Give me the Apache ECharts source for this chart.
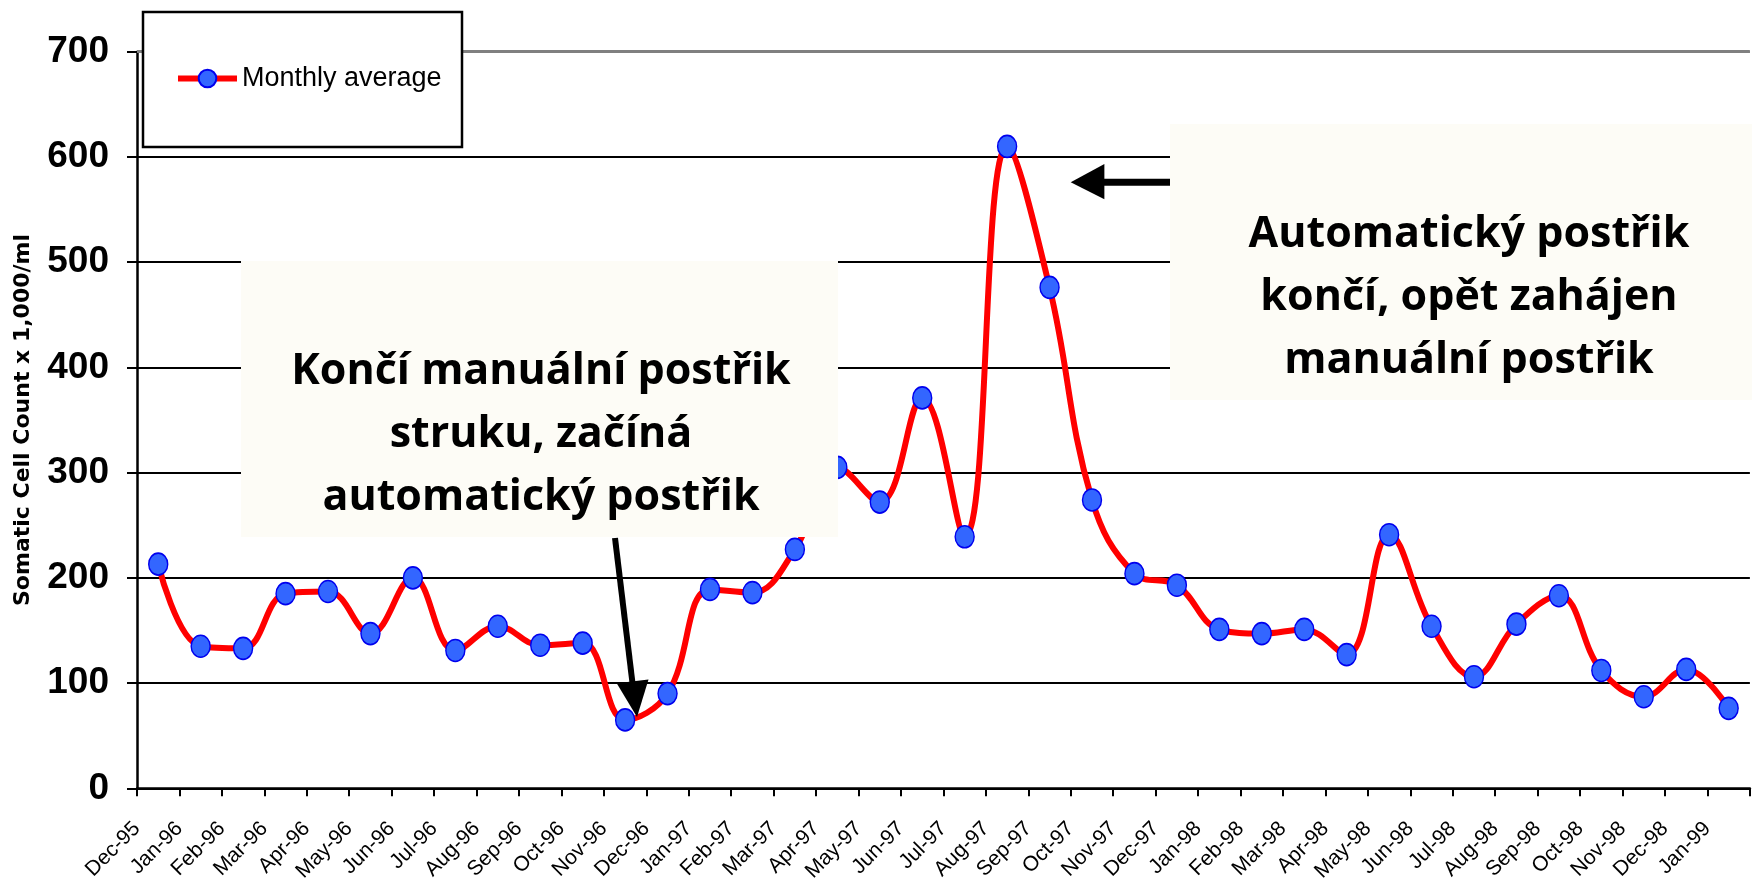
<!DOCTYPE html>
<html>
<head>
<meta charset="utf-8">
<script src="https://cdn.jsdelivr.net/npm/echarts@6/dist/echarts.min.js"></script>
<style>
html,body{margin:0;padding:0;background:#ffffff;}
#chart{width:1752px;height:889px;}
</style>
</head>
<body>
<div id="chart"></div>
<script>
// ---- data ----
const months = ['Dec-95','Jan-96','Feb-96','Mar-96','Apr-96','May-96','Jun-96','Jul-96','Aug-96','Sep-96','Oct-96','Nov-96',
  'Dec-96','Jan-97','Feb-97','Mar-97','Apr-97','May-97','Jun-97','Jul-97','Aug-97','Sep-97','Oct-97','Nov-97',
  'Dec-97','Jan-98','Feb-98','Mar-98','Apr-98','May-98','Jun-98','Jul-98','Aug-98','Sep-98','Oct-98','Nov-98',
  'Dec-98','Jan-99'];
const monthlyAverage = [213,135,133,185,187,147,200,131,154,136,138,65,
  90,189,186,227,305,272,371,239,610,476,274,204,
  193,151,147,151,127,241,154,106,156,183,112,87,
  113,76];
const seriesName = 'Monthly average';
const yAxisTitle = 'Somatic Cell Count x 1,000/ml';
const yMin = 0, yMax = 700, yStep = 100;
const note1 = 'Končí manuální postřik\nstruku, začíná\nautomatický postřik';
const note2 = 'Automatický postřik\nkončí, opět zahájen\nmanuální postřik';

// ---- chart ----
const chart = echarts.init(document.getElementById('chart'), null, {renderer: 'canvas'});
const gridLineColors = [];
for (let v = yMin; v <= yMax; v += yStep) gridLineColors.push(v === yMax ? '#808080' : '#000000');
const noteFont = '"Open Sans", Lato, "Noto Sans", sans-serif';

const option = {
  backgroundColor: '#ffffff',
  animation: false,
  grid: {left: 137, top: 51.7, width: 1619, height: 736.6, containLabel: false},
  xAxis: [
    {
      type: 'category', data: months, boundaryGap: true,
      axisLine: {show: true, lineStyle: {color: '#000', width: 2.5}},
      axisTick: {show: true, interval: 0, length: 8, lineStyle: {color: '#000', width: 2}},
      axisLabel: {show: false},
      splitLine: {show: false}
    },
    {
      type: 'category', data: months.concat(['']), boundaryGap: false, position: 'bottom',
      axisLine: {show: false}, axisTick: {show: false}, splitLine: {show: false},
      axisLabel: {show: true, interval: 0, rotate: 45, margin: 37, color: '#000',
        fontSize: 21, fontFamily: '"Liberation Sans", Arial, sans-serif'}
    }
  ],
  yAxis: {
    type: 'value', min: yMin, max: yMax, interval: yStep,
    name: yAxisTitle, nameLocation: 'middle', nameRotate: 90, nameGap: 103,
    nameTextStyle: {fontSize: 22, fontWeight: 'bold', color: '#000', fontFamily: '"DejaVu Sans", sans-serif'},
    axisLine: {show: true, lineStyle: {color: '#000', width: 2.5}},
    axisTick: {show: true, length: 10, lineStyle: {color: '#000', width: 2}},
    axisLabel: {margin: 28, fontSize: 37, fontWeight: 'bold', color: '#000', fontFamily: '"Liberation Sans", Arial, sans-serif'},
    splitLine: {show: true, lineStyle: {color: gridLineColors, width: 2}}
  },
  legend: {
    show: true, data: [seriesName], left: 175, top: 65, padding: 0, z: 8,
    itemWidth: 59, itemHeight: 22, itemGap: 0,
    lineStyle: {width: 6},
    textStyle: {fontSize: 27, color: '#000', fontFamily: '"Liberation Sans", Arial, sans-serif'}
  },
  series: [{
    name: seriesName, type: 'line', data: monthlyAverage, xAxisIndex: 0,
    smooth: 0.4, symbol: 'circle', symbolSize: [19, 22],
    lineStyle: {color: '#ff0000', width: 6},
    itemStyle: {color: '#3366ff', borderColor: '#0000ee', borderWidth: 1.5},
    markLine: {
      z: 1, silent: true, symbol: 'none', label: {show: false},
      lineStyle: {color: '#808080', width: 3, type: 'solid'},
      data: [{yAxis: yMax}]
    },
    z: 3
  }],
  graphic: [
    {type: 'rect', z: 7, shape: {x: 143, y: 12, width: 319, height: 135},
      style: {fill: '#ffffff', stroke: '#000', lineWidth: 2.5}},
    {type: 'rect', z: 10, shape: {x: 241, y: 261, width: 597, height: 276},
      style: {fill: '#fdfcf6', stroke: null}},
    {type: 'text', z: 11, style: {text: note1, x: 541, y: 435, align: 'center', verticalAlign: 'middle',
      fontSize: 43, fontWeight: 'bold', lineHeight: 63, fill: '#000', fontFamily: noteFont}},
    {type: 'rect', z: 10, shape: {x: 1170, y: 124, width: 600, height: 276},
      style: {fill: '#fdfcf6', stroke: null}},
    {type: 'text', z: 11, style: {text: note2, x: 1469, y: 298, align: 'center', verticalAlign: 'middle',
      fontSize: 43, fontWeight: 'bold', lineHeight: 63, fill: '#000', fontFamily: noteFont}},
    {type: 'line', z: 12, shape: {x1: 615, y1: 538, x2: 632.6, y2: 684},
      style: {stroke: '#000', lineWidth: 6}},
    {type: 'polygon', z: 12, shape: {points: [[637, 717], [648.5, 679.4], [616.7, 683.3]]},
      style: {fill: '#000'}},
    {type: 'line', z: 12, shape: {x1: 1100, y1: 182.3, x2: 1170, y2: 182.3},
      style: {stroke: '#000', lineWidth: 7}},
    {type: 'polygon', z: 12, shape: {points: [[1070.7, 182.3], [1104.4, 164], [1104.4, 199.3]]},
      style: {fill: '#000'}}
  ]
};
chart.setOption(option);
</script>
</body>
</html>
